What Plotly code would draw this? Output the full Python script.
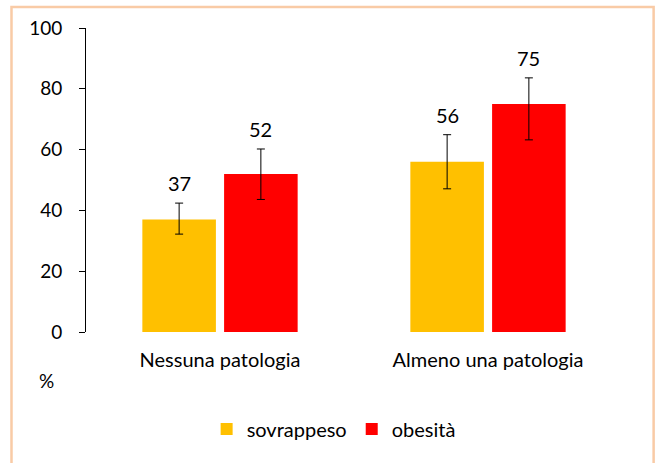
import plotly.graph_objects as go

categorie = ["Nessuna patologia", "Almeno una patologia"]
sovrappeso = [37, 56]
sovrappeso_err_su = [5.4, 8.9]
sovrappeso_err_giu = [4.8, 8.9]
obesita = [52, 75]
obesita_err_su = [8.2, 8.6]
obesita_err_giu = [8.4, 11.8]
etichette_y = [0, 20, 40, 60, 80, 100]

FONT = "Lato"
GIALLO = "#FFC000"
ROSSO = "#FF0000"
BARGAP = 0.39

fig = go.Figure()

fig.add_trace(go.Bar(
    x=categorie,
    y=sovrappeso,
    name="sovrappeso",
    marker=dict(color=GIALLO, line=dict(width=0)),
    error_y=dict(type="data", symmetric=False, array=sovrappeso_err_su,
                 arrayminus=sovrappeso_err_giu, color="black", thickness=1, width=4),
))

fig.add_trace(go.Bar(
    x=categorie,
    y=obesita,
    name="obesità",
    marker=dict(color=ROSSO, line=dict(width=0)),
    error_y=dict(type="data", symmetric=False, array=obesita_err_su,
                 arrayminus=obesita_err_giu, color="black", thickness=1, width=4),
))

# data labels above the error bars, centred on each bar of the group
slot = (1 - BARGAP) / 2
offsets = [-slot / 2, slot / 2]
for serie, err, off in [(sovrappeso, sovrappeso_err_su, offsets[0]),
                        (obesita, obesita_err_su, offsets[1])]:
    for i, (v, e) in enumerate(zip(serie, err)):
        fig.add_annotation(
            x=i + off, y=v + e, text=str(v), showarrow=False,
            xref="x", yref="y", yanchor="bottom", yshift=6,
            font=dict(family=FONT, size=20, color="black"),
        )

fig.add_annotation(
    x=-0.073, y=-0.158, xref="paper", yref="paper", text="%", showarrow=False,
    xanchor="center", yanchor="middle",
    font=dict(family=FONT, size=19, color="black"),
)

# outer frame
fig.add_shape(
    type="rect", xref="paper", yref="paper",
    x0=-0.139, x1=1.059, y0=-0.45, y1=1.069,
    line=dict(color="#F9CBA6", width=2.5), fillcolor="rgba(0,0,0,0)",
)

fig.update_layout(
    width=656,
    height=463,
    margin=dict(l=86, r=34, t=28, b=131, autoexpand=False),
    paper_bgcolor="white",
    plot_bgcolor="white",
    barmode="group",
    bargap=BARGAP,
    bargroupgap=0.1,
    font=dict(family=FONT, size=19, color="black"),
    showlegend=True,
    legend=dict(
        orientation="h", x=0.462, xanchor="center", y=-0.319, yanchor="middle",
        font=dict(family=FONT, size=20), traceorder="normal",
    ),
    xaxis=dict(
        showline=False, ticks="", showgrid=False,
        tickfont=dict(family=FONT, size=20), ticklabelstandoff=14,
    ),
    yaxis=dict(
        range=[0, 100], tickvals=etichette_y, showgrid=False, zeroline=False,
        showline=True, linecolor="black", linewidth=1,
        ticks="outside", ticklen=6, tickcolor="black",
        tickfont=dict(family=FONT, size=19), ticklabelstandoff=13,
    ),
)

fig.write_html("out.html", config={"displayModeBar": False},
               post_script="document.body.style.margin='0';")
